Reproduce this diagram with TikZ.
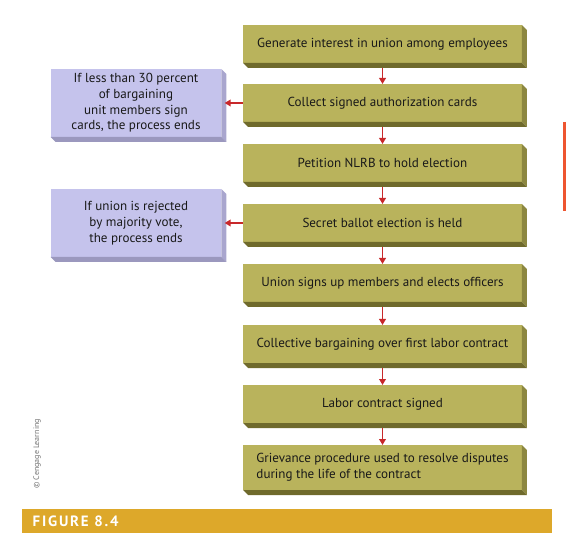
\documentclass[tikz,border=0pt]{standalone}
\usepackage{fontspec}
\setmainfont{PT Sans}
\newfontfamily\figfont[LetterSpace=12]{PT Sans}
\usepackage{xcolor}
\usetikzlibrary{arrows.meta,positioning,calc}
\definecolor{olive}{HTML}{B9B35C}
\definecolor{oliveSide}{HTML}{8C8740}
\definecolor{oliveBase}{HTML}{6F6A2C}
\definecolor{lilac}{HTML}{C5C3EC}
\definecolor{lilacSide}{HTML}{A9A6CE}
\definecolor{lilacBase}{HTML}{9B98BE}
\definecolor{flowRed}{HTML}{C8282A}
\definecolor{accent}{HTML}{EE5530}
\definecolor{figbar}{HTML}{DDA82A}
\begin{document}
\begin{tikzpicture}[x=0.75pt, y=0.75pt,
  stage/.style={fill=olive, inner sep=0pt, outer sep=0pt, minimum width=209pt, minimum height=28.5pt, align=center, font=\fontsize{9.8}{11.8}\selectfont, text=black!90},
  exit/.style={fill=lilac, inner sep=0pt, outer sep=0pt, minimum width=128pt, minimum height=51pt, align=center, font=\fontsize{9.8}{11.8}\selectfont, text=black!90},
  flow/.style={-{Triangle[length=4.5pt, width=5pt]}, line width=1.2pt, color=flowRed, shorten <=3.75pt},
  sideflow/.style={-{Triangle[length=4.5pt, width=5pt]}, line width=1.2pt, color=flowRed, shorten >=2.5pt}
]
  \useasboundingbox (0,0) rectangle (566,535);
  % main stages
  \node[stage] (interest) at (382.5,491) {Generate interest in union among employees};
  \node[stage] (cards) at (382.5,432) {Collect signed authorization cards};
  \node[stage] (petition) at (382.5,372) {Petition NLRB to hold election};
  \node[stage] (ballot) at (382.5,312) {Secret ballot election is held};
  \node[stage] (officers) at (382.5,252) {Union signs up members and elects officers};
  \node[stage] (bargain) at (382.5,191) {Collective bargaining over first labor contract};
  \node[stage] (signed) at (382.5,131) {Labor contract signed};
  \node[stage, minimum height=33.75pt, align=left] (grievance) at (382.5,67.5) {Grievance procedure used to resolve disputes\\during the life of the contract};
  % exits
  \node[exit] (lessthan) at (136,432) {If less than 30 percent\\of bargaining\\unit members sign\\cards, the process ends};
  \node[exit] (rejected) at (136,312) {If union is rejected\\by majority vote,\\the process ends};
  % extruded edges
  \foreach \n in {interest,cards,petition,ballot,officers,bargain,signed,grievance} {
    \fill[oliveSide] (\n.north east) -- ++(5,-5) -- ([shift={(5,-5)}]\n.south east) -- (\n.south east) -- cycle;
    \fill[oliveBase] (\n.south west) -- ++(5,-5) -- ([shift={(5,-5)}]\n.south east) -- (\n.south east) -- cycle;
  }
  \foreach \n in {lessthan,rejected} {
    \fill[lilacSide] (\n.north east) -- ++(5,-5) -- ([shift={(5,-5)}]\n.south east) -- (\n.south east) -- cycle;
    \fill[lilacBase] (\n.south west) -- ++(5,-5) -- ([shift={(5,-5)}]\n.south east) -- (\n.south east) -- cycle;
  }
  % arrows
  \draw[flow] (interest) -- (cards);
  \draw[flow] (cards) -- (petition);
  \draw[flow] (petition) -- (ballot);
  \draw[flow] (ballot) -- (officers);
  \draw[flow] (officers) -- (bargain);
  \draw[flow] (bargain) -- (signed);
  \draw[flow] (signed) -- (grievance);
  \draw[sideflow] (cards) -- (lessthan);
  \draw[sideflow] (ballot) -- (rejected);
  % page furniture
  \draw[accent, line width=2.25pt] (564,413) -- (564,324);
  \node[rotate=90, font=\fontsize{6}{7}\selectfont, text=black!55] (credit) at (37,81) {\textcopyright{} Cengage Learning};
  \fill[figbar] (22,2) rectangle (552,26);
  \node[anchor=west, text=white, font=\figfont\bfseries\fontsize{11.2}{13}\selectfont] (caption) at (28,14) {FIGURE 8.4};
\end{tikzpicture}
\end{document}
